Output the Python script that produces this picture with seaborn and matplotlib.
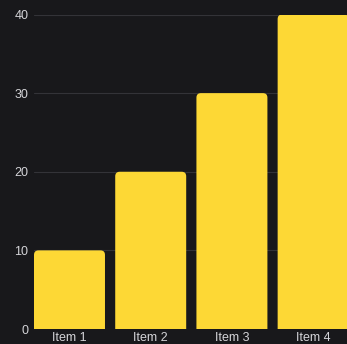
import matplotlib
matplotlib.use("Agg")
import matplotlib.pyplot as plt
import seaborn as sns
import pandas as pd
from matplotlib.patches import FancyBboxPatch

categories = ["Item 1", "Item 2", "Item 3", "Item 4"]
values = [10, 20, 30, 40]
yticks = [0, 10, 20, 30, 40]

BG = "#18181b"
BAR = "#fdd835"
TXT = "#d4d4d8"
GRID = "#333338"

sns.set_theme(style="dark")
plt.rcParams["font.family"] = ["Liberation Sans", "DejaVu Sans"]

W, H = 347, 344
fig = plt.figure(figsize=(W / 100, H / 100), dpi=100, facecolor=BG)
left, right, bottom, top = 34, 347, 15, 329.5
ax = fig.add_axes([left / W, bottom / H, (right - left) / W, (top - bottom) / H])
ax.set_facecolor(BG)

df = pd.DataFrame({"cat": categories, "val": values})
bw = 0.874
sns.barplot(data=df, x="cat", y="val", color=BAR, width=bw, saturation=1, ax=ax, zorder=3)

ax.set_xlim(-bw / 2, 3 + bw / 2 - 0.02)
ax.set_ylim(0, 40)

# rounded top corners
px_x = (ax.get_xlim()[1] - ax.get_xlim()[0]) / (right - left)
px_y = 40 / (top - bottom)
r = 4.5 * px_x
aspect = px_y / px_x
for p in list(ax.patches):
    x, w, h = p.get_x(), p.get_width(), p.get_height()
    p.remove()
    ext = 6 * px_y
    fb = FancyBboxPatch((x, -ext), w, h + ext,
                        boxstyle=f"round,pad=0,rounding_size={r}",
                        mutation_aspect=aspect, facecolor=BAR, edgecolor="none", zorder=3)
    ax.add_patch(fb)

ax.set_yticks(yticks)
ax.set_yticklabels([str(t) for t in yticks])
ax.grid(axis="y", color=GRID, linewidth=0.8, zorder=0)
ax.grid(axis="x", visible=False)
for s in ax.spines.values():
    s.set_visible(False)
ax.tick_params(axis="both", length=0, colors=TXT, labelsize=9)
ax.tick_params(axis="y", pad=4)
ax.tick_params(axis="x", pad=2.5)
ax.set_xlabel("")
ax.set_ylabel("")

fig.savefig("out.png", dpi=100, facecolor=BG)
